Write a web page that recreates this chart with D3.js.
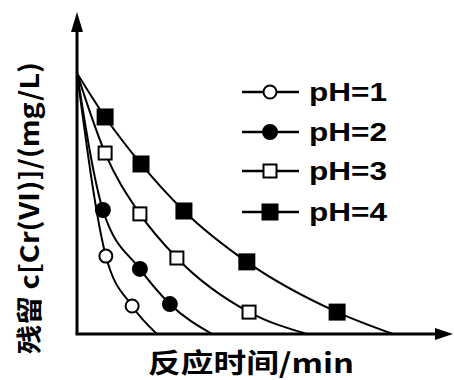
<!DOCTYPE html>
<html>
<head>
<meta charset="utf-8">
<script src="https://cdn.jsdelivr.net/npm/d3@7"></script>
<style>
  body { margin: 0; background: #fff; }
  svg { display: block; }
</style>
</head>
<body>
<div class="svg-container"></div>
<script>
// data (arbitrary units, no ticks on the original)
const series = ["pH=1", "pH=2", "pH=3", "pH=4"];
const startValue = 81;
const time1 = [7.8, 14.9];
const value1 = [24.2, 8.7];
const end1 = 21.6;
const time2 = [7.0, 17.0, 25.1];
const value2 = [38.5, 20.2, 9.3];
const end2 = 36.5;
const time3 = [7.6, 17.0, 27.0, 46.5];
const value3 = [56.2, 37.3, 23.6, 6.8];
const end3 = 62.2;
const time4 = [7.6, 17.3, 28.9, 45.9, 70.3];
const value4 = [67.4, 52.8, 38.2, 22.4, 6.8];
const end4 = 85.4;

const xTitle = "反应时间/min";
const yTitle = "残留 c[Cr(Ⅵ)]/(mg/L)";

const width = 454;
const height = 380;
const margin = { top: 12, right: 2, bottom: 46, left: 77 };

const svg = d3
  .select(".svg-container")
  .append("svg")
  .attr("width", width)
  .attr("height", height);

const xScale = d3.scaleLinear().domain([0, 100]).range([margin.left, 447]);
const yScale = d3.scaleLinear().domain([0, 100]).range([height - margin.bottom, margin.top]);

// build each series: start point on the y axis, markers, end on the x axis
const raw = [
  [time1, value1, end1, "circle", "#fff"],
  [time2, value2, end2, "circle", "#000"],
  [time3, value3, end3, "square", "#fff"],
  [time4, value4, end4, "square", "#000"],
];
const data = raw.map(([t, v, end, shape, fill], i) => ({
  name: series[i],
  shape,
  fill,
  marks: t.map((d, j) => ({ t: d, v: v[j] })),
  path: [{ t: 0, v: startValue }]
    .concat(t.map((d, j) => ({ t: d, v: v[j] })))
    .concat([{ t: end, v: 0 }]),
}));

const line = d3
  .line()
  .x((d) => xScale(d.t))
  .y((d) => yScale(d.v))
  .curve(d3.curveMonotoneX);

data.forEach((s) => {
  svg
    .append("path")
    .datum(s.path)
    .attr("fill", "none")
    .attr("stroke", "#000")
    .attr("stroke-width", 2)
    .attr("d", line);
});

// markers
function drawMarker(g, shape, fill, cx, cy) {
  if (shape === "circle") {
    g.append("circle")
      .attr("cx", cx)
      .attr("cy", cy)
      .attr("r", fill === "#000" ? 7 : 6.5)
      .attr("fill", fill)
      .attr("stroke", "#000")
      .attr("stroke-width", 2);
  } else {
    const s = fill === "#000" ? 15 : 13;
    g.append("rect")
      .attr("x", cx - s / 2)
      .attr("y", cy - s / 2)
      .attr("width", s)
      .attr("height", s)
      .attr("fill", fill)
      .attr("stroke", "#000")
      .attr("stroke-width", 2);
  }
}

data.forEach((s) => {
  const g = svg.append("g");
  s.marks.forEach((d) => drawMarker(g, s.shape, s.fill, xScale(d.t), yScale(d.v)));
});

// axes with arrow heads
const x0 = xScale(0);
const y0 = yScale(0);
svg
  .append("line")
  .attr("x1", x0)
  .attr("y1", y0)
  .attr("x2", x0)
  .attr("y2", margin.top + 10)
  .attr("stroke", "#000")
  .attr("stroke-width", 3);
svg
  .append("line")
  .attr("x1", x0 - 1.5)
  .attr("y1", y0)
  .attr("x2", width - 10)
  .attr("y2", y0)
  .attr("stroke", "#000")
  .attr("stroke-width", 3);
svg
  .append("path")
  .attr("d", `M${x0},${margin.top} L${x0 - 6},${margin.top + 20} L${x0 + 6},${margin.top + 20} Z`)
  .attr("fill", "#000");
svg
  .append("path")
  .attr("d", `M${width - 1},${y0} L${width - 19},${y0 - 6} L${width - 19},${y0 + 6} Z`)
  .attr("fill", "#000");

// legend
const legend = svg.append("g");
const legendY = [92, 132, 171, 212];
data.forEach((s, i) => {
  const y = legendY[i];
  legend
    .append("line")
    .attr("x1", 242)
    .attr("x2", 299)
    .attr("y1", y)
    .attr("y2", y)
    .attr("stroke", "#000")
    .attr("stroke-width", 2.5);
  drawMarker(legend, s.shape, s.fill, 270, y);
  legend
    .append("text")
    .attr("x", 309)
    .attr("y", y + 9)
    .attr("font-family", "Liberation Sans, Arial, sans-serif")
    .attr("font-weight", "bold")
    .attr("font-size", 26)
    .attr("textLength", 78)
    .attr("lengthAdjust", "spacingAndGlyphs")
    .text(s.name);
});

// axis titles
svg
  .append("text")
  .attr("x", 251)
  .attr("y", 373)
  .attr("text-anchor", "middle")
  .attr("font-family", "Noto Sans CJK SC, sans-serif")
  .attr("font-weight", "bold")
  .attr("font-size", 27)
  .attr("textLength", 206)
  .attr("lengthAdjust", "spacingAndGlyphs")
  .text(xTitle);

svg
  .append("text")
  .attr("transform", "translate(39,208) rotate(-90)")
  .attr("text-anchor", "middle")
  .attr("font-family", "Noto Sans CJK SC, sans-serif")
  .attr("font-weight", "bold")
  .attr("font-size", 26)
  .attr("textLength", 292)
  .attr("lengthAdjust", "spacingAndGlyphs")
  .text(yTitle);
</script>
</body>
</html>
